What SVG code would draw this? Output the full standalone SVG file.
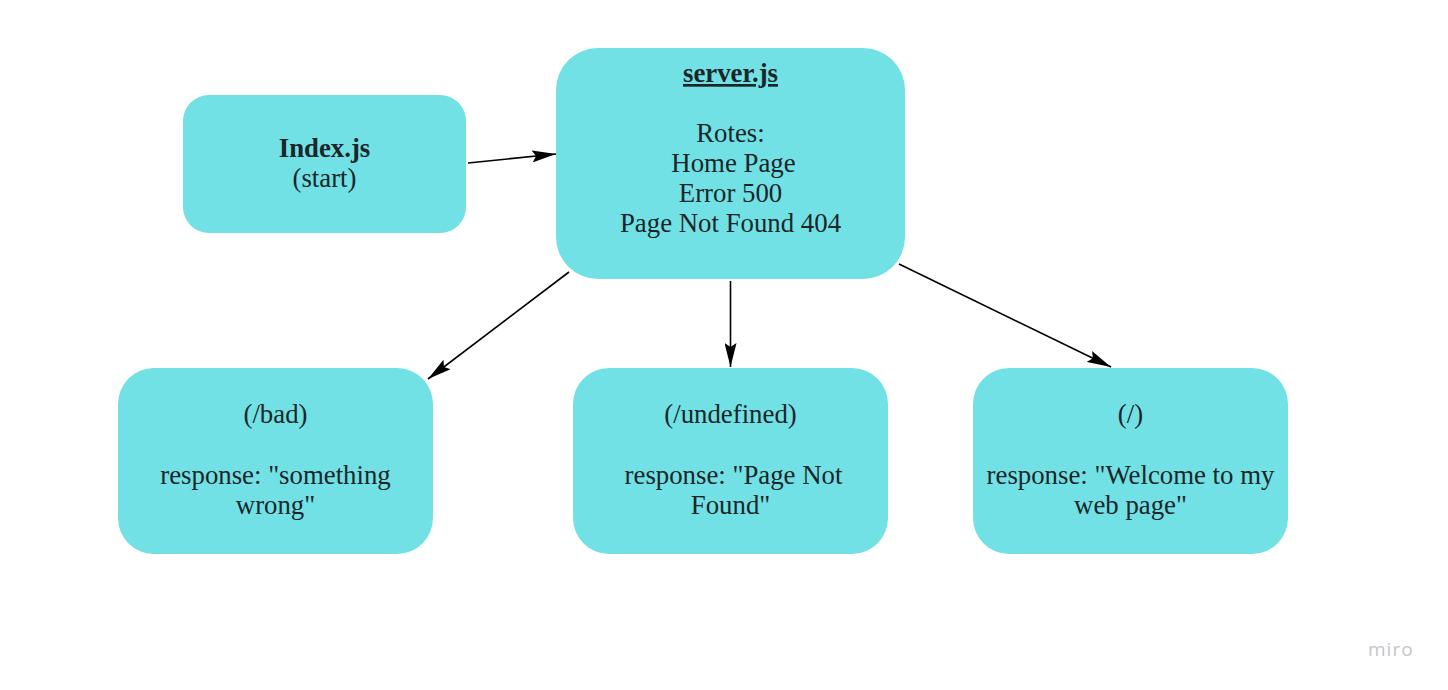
<svg xmlns="http://www.w3.org/2000/svg" width="1448" height="690" viewBox="0 0 1448 690">
<style>
.box{fill:#71e1e5}
.t{font-family:"Liberation Serif","Times New Roman",serif;font-size:26.8px;fill:#1a2628;text-anchor:middle}
.b{font-weight:bold}
.edge{stroke:#000;stroke-width:1.6;fill:none;marker-end:url(#ah)}
.miro{font-family:"Open Sans","Liberation Sans",sans-serif;font-size:19px;fill:#c4c6cc;letter-spacing:1px}
</style>
<defs>
<marker id="ah" viewBox="0 0 24 12" refX="24" refY="6" markerWidth="24" markerHeight="12" markerUnits="userSpaceOnUse" orient="auto">
<path d="M0,0 L24,6 L0,12 L4,6 Z" fill="#000"/>
</marker>
</defs>
<rect width="1448" height="690" fill="#fff"/>
<g id="index">
<rect class="box" x="183" y="95" width="283" height="138" rx="26"/>
<text class="t b" x="324.5" y="157">Index.js</text>
<text class="t" x="324.5" y="187">(start)</text>
</g>
<g id="server">
<rect class="box" x="556" y="48" width="349" height="231" rx="42"/>
<text class="t b" x="730.5" y="82" text-decoration="underline">server.js</text>
<text class="t" x="730.5" y="142">Rotes:</text>
<text class="t" x="733.5" y="172">Home Page</text>
<text class="t" x="730.5" y="202">Error 500</text>
<text class="t" x="730.5" y="232">Page Not Found 404</text>
</g>
<g id="bad">
<rect class="box" x="118" y="368" width="315" height="186" rx="36"/>
<text class="t" x="275.5" y="423">(/bad)</text>
<text class="t" x="275.5" y="484">response: "something</text>
<text class="t" x="275.5" y="514">wrong"</text>
</g>
<g id="undefined">
<rect class="box" x="573" y="368" width="315" height="186" rx="36"/>
<text class="t" x="730.5" y="423">(/undefined)</text>
<text class="t" x="733.5" y="484">response: "Page Not</text>
<text class="t" x="730.5" y="514">Found"</text>
</g>
<g id="root">
<rect class="box" x="973" y="368" width="315" height="186" rx="36"/>
<text class="t" x="1130.5" y="423">(/)</text>
<text class="t" x="1130.5" y="484">response: "Welcome to my</text>
<text class="t" x="1130.5" y="514">web page"</text>
</g>
<g id="connectors">
<line class="edge" x1="468" y1="163" x2="556" y2="154"/>
<line class="edge" x1="569" y1="272" x2="428" y2="379"/>
<line class="edge" x1="730.5" y1="281" x2="730.5" y2="367"/>
<line class="edge" x1="899" y1="264" x2="1111" y2="367"/>
</g>
<text class="miro" x="1368" y="656">miro</text>
</svg>
